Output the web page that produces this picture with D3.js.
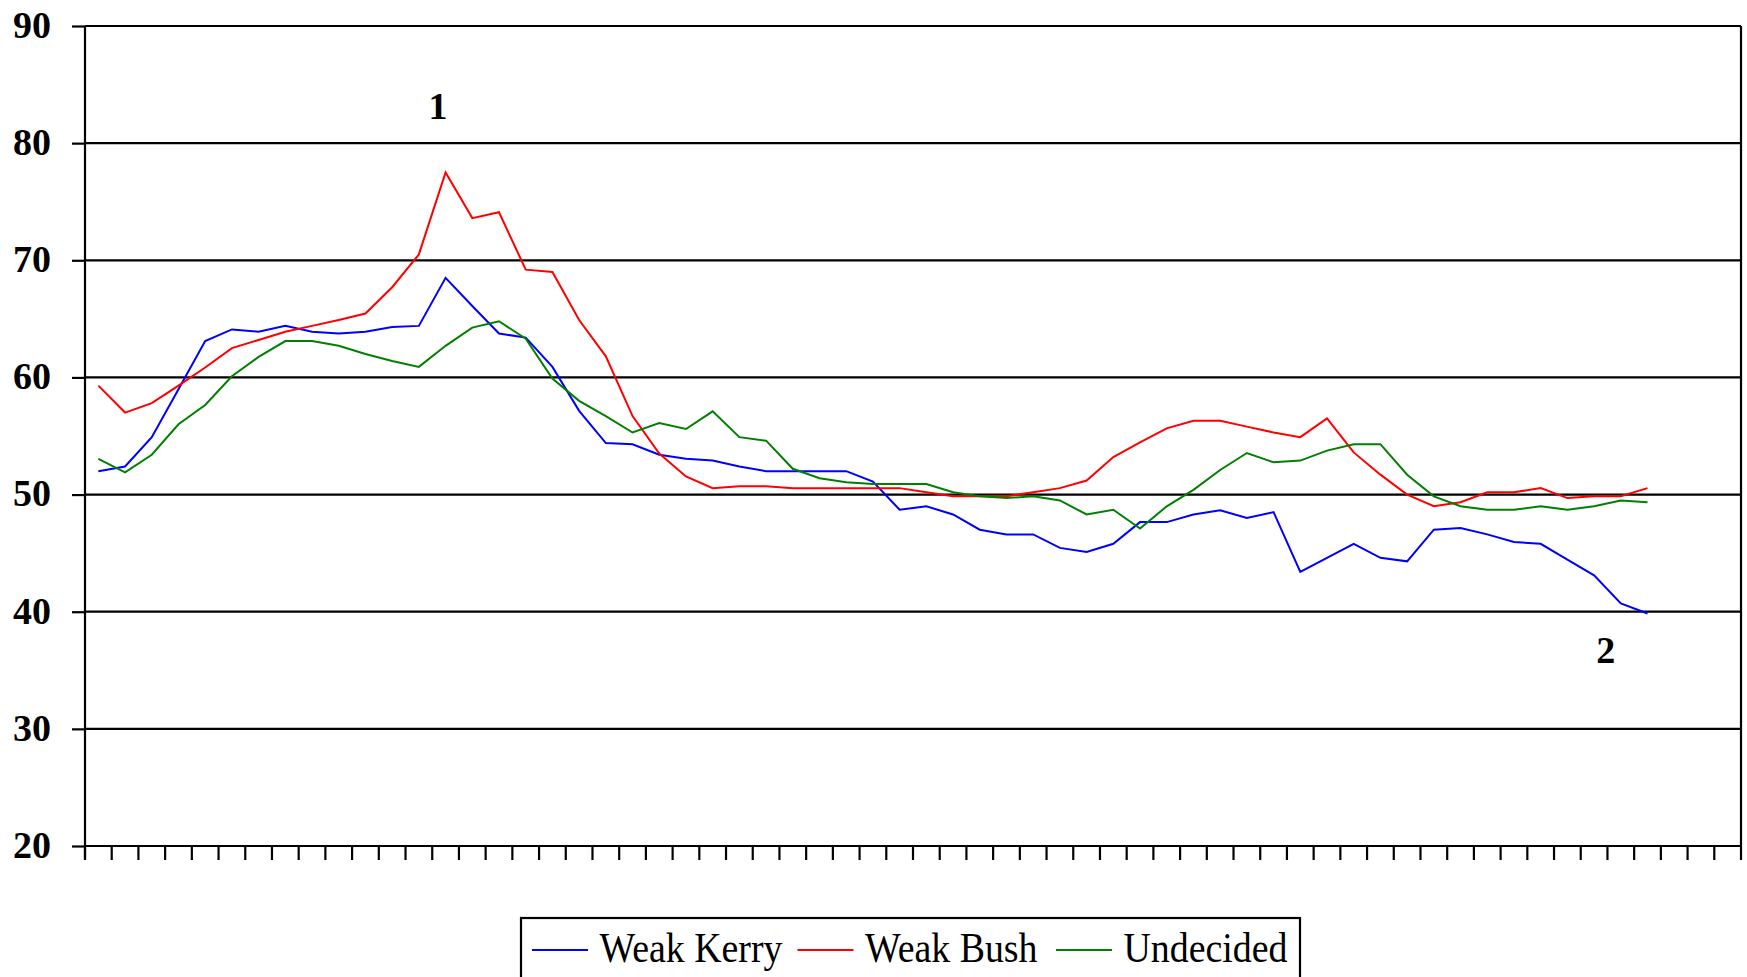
<!DOCTYPE html>
<html>
<head>
<meta charset="utf-8">
<script src="https://cdn.jsdelivr.net/npm/d3@7"></script>
<style>
  html, body { margin: 0; padding: 0; background: #fff; }
  svg { display: block; }
</style>
</head>
<body>
<svg id="chart" width="1747" height="977"></svg>
<script>
// ---- data ----
const categories = d3.range(1, 63);            // 62 unlabeled category slots
const yTicks = [20, 30, 40, 50, 60, 70, 80, 90];
const seriesNames = ["Weak Kerry", "Weak Bush", "Undecided"];
const seriesColors = ["#0000ff", "#ff0000", "#008000"];

const weakKerry = [52.0, 52.4, 54.9, 59.0, 63.1, 64.1, 63.9, 64.4, 63.9, 63.75, 63.9, 64.3, 64.4, 68.5, 66.1, 63.75, 63.4, 60.9, 57.15,
  54.4, 54.3, 53.4, 53.05, 52.9, 52.4, 52.0, 52.0, 52.0, 52.0, 51.1, 48.7, 49.0, 48.3, 47.0, 46.6, 46.6, 45.45, 45.1, 45.8,
  47.65, 47.65, 48.3, 48.65, 48.0, 48.5, 43.4, 44.6, 45.8, 44.6, 44.3, 47.0, 47.15, 46.6, 45.95, 45.8, 44.45, 43.1, 40.7, 39.85];
const weakBush = [59.3, 57.0, 57.8, 59.3, 60.85, 62.5, 63.2, 63.9, 64.4, 64.9, 65.45, 67.7, 70.5, 77.5, 73.6, 74.1, 69.2, 69.0, 64.9,
  61.8, 56.7, 53.5, 51.55, 50.55, 50.7, 50.7, 50.55, 50.55, 50.55, 50.55, 50.55, 50.2, 49.85, 49.85, 49.85, 50.2, 50.55, 51.2, 53.2,
  54.45, 55.65, 56.3, 56.3, 55.8, 55.3, 54.9, 56.5, 53.6, 51.7, 50.0, 49.0, 49.35, 50.2, 50.2, 50.55, 49.7, 49.85, 49.85, 50.55];
const undecided = [53.05, 51.9, 53.4, 56.0, 57.65, 60.1, 61.75, 63.1, 63.1, 62.7, 62.0, 61.4, 60.9, 62.7, 64.25, 64.8, 63.3, 59.9, 58.0,
  56.7, 55.3, 56.1, 55.6, 57.1, 54.9, 54.6, 52.2, 51.4, 51.05, 50.9, 50.9, 50.9, 50.2, 49.85, 49.7, 49.85, 49.5, 48.3, 48.7,
  47.1, 49.0, 50.4, 52.1, 53.55, 52.75, 52.9, 53.75, 54.3, 54.3, 51.7, 49.85, 49.0, 48.7, 48.7, 49.0, 48.7, 49.0, 49.5, 49.35];

const annotationTexts = ["1", "2"];
const annotationCats = [13.72, 57.44];   // fractional category position (1-based)
const annotationValues = [82.1, 35.6];

// ---- layout ----
const svg = d3.select("#chart");
const plotLeft = 85, plotRight = 1741, plotTop = 26, plotBottom = 846;

const x = d3.scaleBand().domain(categories).range([plotLeft, plotRight]).padding(0);
const bw = x.bandwidth();
const cx = i => x(categories[0]) + bw * (i + 0.5);
const y = d3.scaleLinear().domain([20, 90]).range([plotBottom, plotTop]);

// gridlines
svg.append("g").selectAll("line").data(yTicks).join("line")
  .attr("x1", plotLeft).attr("x2", plotRight)
  .attr("y1", d => y(d)).attr("y2", d => y(d))
  .attr("stroke", "#000").attr("stroke-width", 2.2);

// right border
svg.append("line").attr("x1", plotRight).attr("x2", plotRight).attr("y1", y(90)).attr("y2", y(20))
  .attr("stroke", "#000").attr("stroke-width", 2.2);

// y axis
const yAxis = d3.axisLeft(y).tickValues(yTicks).tickSize(13).tickPadding(21).tickFormat(d3.format("d"));
const gy = svg.append("g").attr("transform", `translate(${plotLeft},0)`).call(yAxis);
gy.select(".domain").remove();
gy.selectAll(".tick line").attr("stroke", "#000").attr("stroke-width", 2.2);
gy.selectAll("text")
  .attr("font-family", "'Liberation Serif', 'Times New Roman', serif")
  .attr("font-weight", "bold").attr("font-size", 38).attr("fill", "#000")
  .attr("dy", "0.3em");
svg.append("line").attr("x1", plotLeft).attr("x2", plotLeft).attr("y1", y(90)).attr("y2", y(20) + 13)
  .attr("stroke", "#000").attr("stroke-width", 2.2);

// x axis ticks (between categories)
const xTickPos = categories.map(c => x(c)).concat([plotRight]);
svg.append("g").selectAll("line").data(xTickPos).join("line")
  .attr("x1", d => d).attr("x2", d => d)
  .attr("y1", y(20)).attr("y2", y(20) + 14)
  .attr("stroke", "#000").attr("stroke-width", 2.2);

// series lines
const seriesData = [weakKerry, weakBush, undecided];
const line = d3.line().x((d, i) => cx(i)).y(d => y(d));
svg.append("g").selectAll("path").data(seriesData).join("path")
  .attr("d", line)
  .attr("fill", "none")
  .attr("stroke", (d, i) => seriesColors[i])
  .attr("stroke-width", 2)
  .attr("stroke-linejoin", "miter");

// annotations
svg.append("g").selectAll("text").data(annotationTexts).join("text")
  .attr("x", (d, i) => cx(annotationCats[i] - 1))
  .attr("y", (d, i) => y(annotationValues[i]))
  .attr("text-anchor", "middle")
  .attr("font-family", "'Liberation Serif', 'Times New Roman', serif")
  .attr("font-weight", "bold").attr("font-size", 38)
  .text(d => d);

// legend
const lg = svg.append("g");
lg.append("rect").attr("x", 521).attr("y", 918).attr("width", 779).attr("height", 80)
  .attr("fill", "#fff").attr("stroke", "#000").attr("stroke-width", 2.2);
const legendItemX = [532, 797.5, 1056];
const legendY = 950;
seriesNames.forEach((name, i) => {
  const lx = legendItemX[i];
  lg.append("line").attr("x1", lx).attr("x2", lx + 56).attr("y1", legendY).attr("y2", legendY)
    .attr("stroke", seriesColors[i]).attr("stroke-width", 2);
  lg.append("text")
    .attr("transform", `translate(${lx + 67.5},${legendY + 12}) scale(1.01,1.1)`)
    .attr("font-family", "'Liberation Serif', 'Times New Roman', serif")
    .attr("font-size", 37.5).attr("fill", "#000")
    .text(name);
});
</script>
</body>
</html>
